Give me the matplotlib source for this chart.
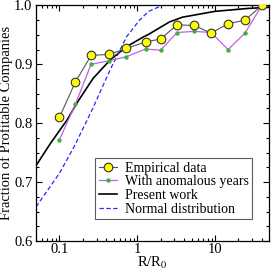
import numpy as np
import matplotlib
matplotlib.use("Agg")
import matplotlib.pyplot as plt
from matplotlib.ticker import MultipleLocator, FixedLocator, LogLocator, NullFormatter

plt.rcParams['font.family'] = ['Liberation Serif', 'DejaVu Serif']
plt.rcParams['mathtext.fontset'] = 'stix'

# empirical data
r_emp = [0.1, 0.16, 0.255, 0.435, 0.726, 1.28, 1.99, 3.25, 5.4, 8.9, 14.7, 24.2, 40.0]
f_emp = [0.810, 0.870, 0.915, 0.917, 0.927, 0.938, 0.943, 0.967, 0.966, 0.953, 0.969, 0.975, 1.0]
f_anom = [0.772, 0.832, 0.900, 0.906, 0.913, 0.926, 0.924, 0.954, 0.956, 0.954, 0.925, 0.953, 1.0]

# model curves
r_model = [0.05, 0.076, 0.102, 0.126, 0.167, 0.27, 0.445, 0.73, 1.18, 1.4, 2.6, 3.8, 10.0, 27.0, 50.0]
f_model = [0.728, 0.765, 0.789, 0.806, 0.834, 0.876, 0.907, 0.930, 0.946, 0.951, 0.972, 0.980, 0.990, 0.995, 0.997]

r_norm = [0.05, 0.1, 0.154, 0.228, 0.27, 0.445, 0.73, 1.07, 1.4, 2.1, 50.0]
f_norm = [0.658, 0.715, 0.760, 0.806, 0.826, 0.890, 0.947, 0.975, 0.990, 1.0, 1.0]

fig = plt.figure(figsize=(2.73, 2.72), dpi=100)
ax = fig.add_axes([0.132, 0.114, 0.855, 0.866])

ax.plot(r_emp, f_emp, '-o', color='#555555', lw=0.8, ms=6.2,
        mfc='#ffff00', mec='#333333', mew=0.8, label='Empirical data', zorder=4)
ax.plot(r_emp, f_anom, '-o', color='#c060e8', lw=0.9, ms=2.2,
        mfc='#40b040', mec='#40b040', label='With anomalous years', zorder=3)
ax.plot(r_model, f_model, '-', color='black', lw=1.2, label='Present work', zorder=2)
ax.plot(r_norm, f_norm, '--', color='#2828ff', lw=0.9, dashes=(3.5, 2),
        label='Normal distribution', zorder=2)

ax.set_xscale('log')
ax.set_xlim(0.05, 50)
ax.set_ylim(0.6, 1.0)
ax.xaxis.set_major_locator(FixedLocator([0.1, 1, 10]))
ax.set_xticklabels(['0.1', '1', '10'])
ax.xaxis.set_minor_locator(LogLocator(base=10, subs=np.arange(2, 10)))
ax.xaxis.set_minor_formatter(NullFormatter())
ax.yaxis.set_major_locator(MultipleLocator(0.1))
ax.yaxis.set_minor_locator(MultipleLocator(0.025))
ax.yaxis.set_major_formatter(plt.FuncFormatter(lambda v, p: f'{v:.1f}'))

ax.tick_params(which='both', direction='in', top=True, right=True, labelsize=10.5, width=0.8)
ax.tick_params(axis='x', pad=1.5)
ax.tick_params(axis='y', pad=2.5)
ax.tick_params(which='major', length=4.5)
ax.tick_params(which='minor', length=2.2)
for s in ax.spines.values():
    s.set_linewidth(0.9)

ax.set_xlabel(r'R/R$_0$', fontsize=10.5, labelpad=-1)
ax.set_ylabel('Fraction of Profitable Companies', fontsize=10.5, labelpad=1)

leg = ax.legend(loc='lower left', bbox_to_anchor=(0.253, 0.093), fontsize=10,
                frameon=True, fancybox=False, borderpad=0.25, labelspacing=0.05,
                handlelength=1.3, handletextpad=0.6, borderaxespad=0)
leg.get_frame().set_edgecolor('#333333')
leg.get_frame().set_linewidth(0.8)

fig.savefig('out.png', dpi=100)
